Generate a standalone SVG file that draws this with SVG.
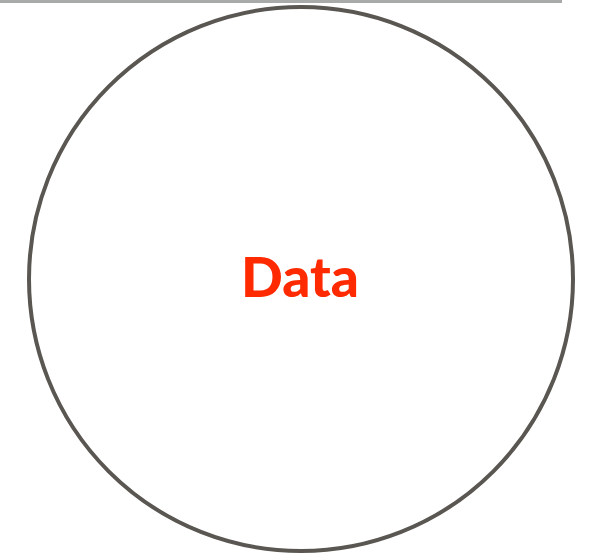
<svg xmlns="http://www.w3.org/2000/svg" width="589" height="560" viewBox="0 0 589 560">
<style>
.node{fill:#ffffff;stroke:#5a5752;stroke-width:4}
.label{font-family:Lato,"Liberation Sans",sans-serif;font-weight:900;font-size:55px;fill:#ff2a00;text-anchor:middle}
</style>
<rect x="0" y="0" width="562" height="3" fill="#a7aaa8"/>
<g id="data">
<circle class="node" cx="301" cy="279" r="272"/>
<text class="label" x="300" y="297">Data</text>
</g>
<g id="connectors"></g>
</svg>
